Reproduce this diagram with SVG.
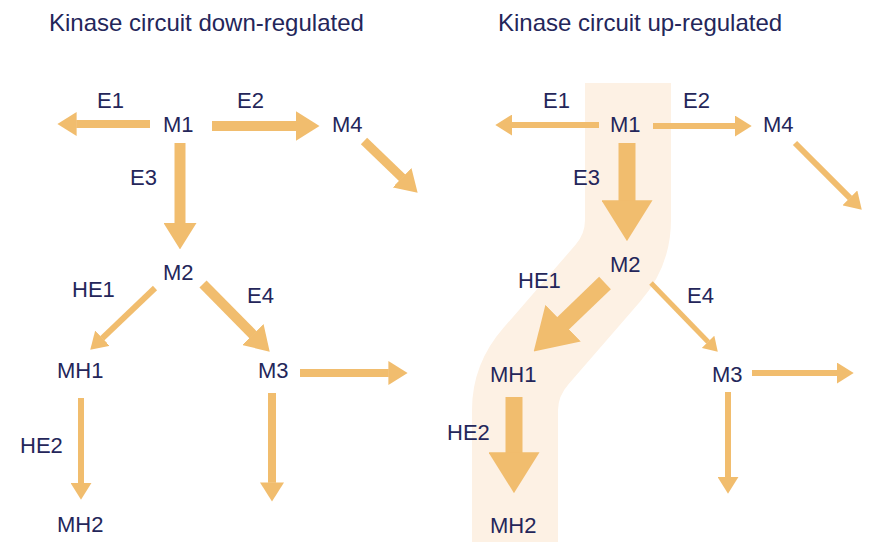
<svg xmlns="http://www.w3.org/2000/svg" width="871" height="542" viewBox="0 0 871 542">
  <style>
    .title { font-family: "Liberation Sans", Arial, sans-serif; font-size: 24px; fill: #24265a; }
    .lbl { font-family: "Liberation Sans", Arial, sans-serif; font-size: 22px; fill: #24265a; }
    .edge { stroke: #f1bd6e; fill: none; stroke-linecap: butt; }
    .thick { marker-end: url(#head); }
    .thin { marker-end: url(#headThin); }
    .ah { fill: #f1bd6e; }
  </style>
  <defs>
    <!-- arrowheads sized in units of the shaft width -->
    <marker id="head" viewBox="0 0 2.4 3" markerWidth="2.4" markerHeight="3" refX="0.05" refY="1.5" orient="auto" markerUnits="strokeWidth">
      <path class="ah" d="M0,0 L2.4,1.5 L0,3 Z"/>
    </marker>
    <marker id="headThin" viewBox="0 0 2.8 3.5" markerWidth="2.8" markerHeight="3.5" refX="0.05" refY="1.75" orient="auto" markerUnits="strokeWidth">
      <path class="ah" d="M0,0 L2.8,1.75 L0,3.5 Z"/>
    </marker>
  </defs>

  <rect width="871" height="542" fill="#ffffff"/>

  <!-- highlighted pathway band (up-regulated panel) -->
  <path id="pathway-band" d="M628,83 V220 Q628,250 608,273 L536,356 Q515,380 515,410 V542" fill="none" stroke="#fdf1e4" stroke-width="86" stroke-linejoin="round"/>

  <text class="title" x="49" y="31">Kinase circuit down-regulated</text>
  <text class="title" x="498" y="31">Kinase circuit up-regulated</text>

  <!-- connectors -->
  <g id="connectors">
    <!-- down-regulated panel -->
    <line class="edge thick" x1="150" y1="124" x2="76.2" y2="124" stroke-width="8"/>
    <line class="edge thick" x1="212" y1="126" x2="296" y2="126" stroke-width="10"/>
    <line class="edge thick" x1="180" y1="143" x2="180" y2="223.6" stroke-width="11"/>
    <line class="edge thick" x1="364" y1="141" x2="402.4" y2="178" stroke-width="9"/>
    <line class="edge thin" x1="155" y1="288" x2="102.2" y2="338.4" stroke-width="6"/>
    <line class="edge thick" x1="203" y1="284" x2="253.2" y2="334.9" stroke-width="10"/>
    <line class="edge thick" x1="300" y1="373" x2="388.8" y2="373" stroke-width="8"/>
    <line class="edge thin" x1="81" y1="398" x2="81" y2="483.2" stroke-width="6"/>
    <line class="edge thick" x1="272" y1="393" x2="272" y2="482.8" stroke-width="8"/>

    <!-- up-regulated panel -->
    <line class="edge thin" x1="599" y1="125" x2="511.8" y2="125" stroke-width="6"/>
    <line class="edge thin" x1="653" y1="126" x2="735.2" y2="126" stroke-width="6"/>
    <line class="edge thin" x1="795" y1="143" x2="850.1" y2="198.1" stroke-width="6"/>
    <line class="edge thick" x1="627" y1="143" x2="627" y2="201.2" stroke-width="17"/>
    <line class="edge thick" x1="605" y1="283" x2="562.5" y2="323.8" stroke-width="17"/>
    <line class="edge thin" x1="651" y1="283" x2="708.2" y2="342" stroke-width="5"/>
    <line class="edge thin" x1="752" y1="373" x2="837.2" y2="373" stroke-width="6"/>
    <line class="edge thick" x1="514" y1="397" x2="514" y2="453.2" stroke-width="17"/>
    <line class="edge thin" x1="728" y1="392" x2="728" y2="477.2" stroke-width="6"/>
  </g>

  <!-- edge labels -->
  <g id="edge-labels-down">
    <text class="lbl" x="97" y="108">E1</text>
    <text class="lbl" x="237" y="108">E2</text>
    <text class="lbl" x="130" y="185">E3</text>
    <text class="lbl" x="72" y="297">HE1</text>
    <text class="lbl" x="247" y="303">E4</text>
    <text class="lbl" x="20" y="453">HE2</text>
  </g>
  <g id="edge-labels-up">
    <text class="lbl" x="543" y="108">E1</text>
    <text class="lbl" x="683" y="108">E2</text>
    <text class="lbl" x="573" y="185">E3</text>
    <text class="lbl" x="518" y="288">HE1</text>
    <text class="lbl" x="687" y="303">E4</text>
    <text class="lbl" x="447" y="440">HE2</text>
  </g>

  <!-- nodes: down-regulated panel -->
  <g id="down-M1"><text class="lbl" x="163" y="132">M1</text></g>
  <g id="down-M4"><text class="lbl" x="332" y="132">M4</text></g>
  <g id="down-M2"><text class="lbl" x="163" y="280">M2</text></g>
  <g id="down-MH1"><text class="lbl" x="57" y="378">MH1</text></g>
  <g id="down-M3"><text class="lbl" x="258" y="378">M3</text></g>
  <g id="down-MH2"><text class="lbl" x="57" y="532">MH2</text></g>

  <!-- nodes: up-regulated panel -->
  <g id="up-M1"><text class="lbl" x="610" y="132">M1</text></g>
  <g id="up-M4"><text class="lbl" x="763" y="132">M4</text></g>
  <g id="up-M2"><text class="lbl" x="610" y="272">M2</text></g>
  <g id="up-MH1"><text class="lbl" x="490" y="382">MH1</text></g>
  <g id="up-M3"><text class="lbl" x="712" y="382">M3</text></g>
  <g id="up-MH2"><text class="lbl" x="490" y="533">MH2</text></g>
</svg>
